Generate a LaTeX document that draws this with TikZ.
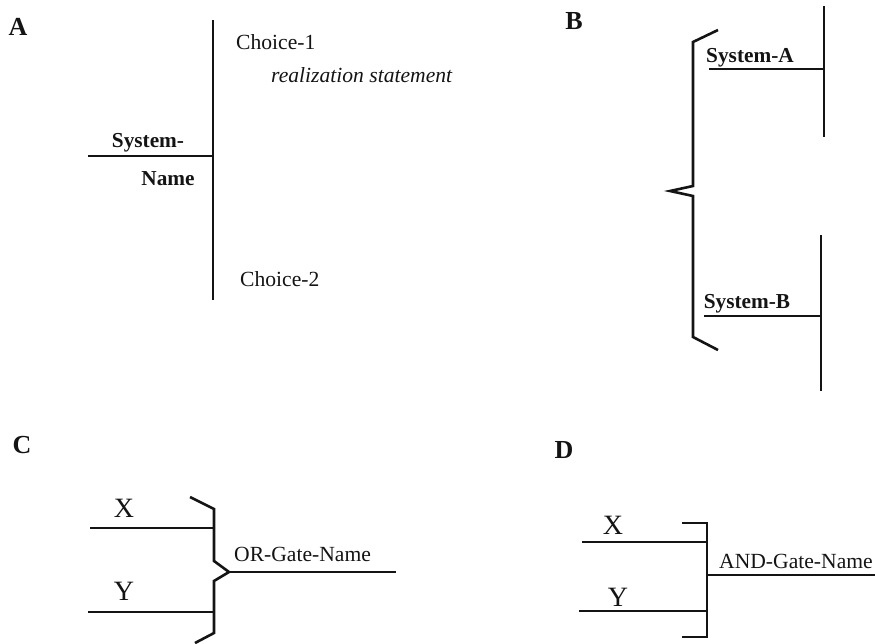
\documentclass[tikz,border=0pt]{standalone}
\usepackage{fontspec}
\setmainfont{Liberation Serif}
\usetikzlibrary{positioning}
\definecolor{ink}{RGB}{20,20,20}
\tikzset{
  wire/.style={draw=ink,line width=2.5pt},
  mid wire/.style={draw=ink,line width=2pt},
  thin wire/.style={draw=ink,line width=1.7pt},
  gate/.style={draw=ink,line width=2.6pt,line join=miter},
  panel/.style={inner sep=0pt,font=\fontsize{26}{28}\selectfont\bfseries,text=ink},
  sysname/.style={inner sep=0pt,font=\fontsize{21.3}{24}\selectfont\bfseries,text=ink},
  choice/.style={inner sep=0pt,anchor=west,font=\fontsize{21.6}{24}\selectfont,text=ink},
  input/.style={inner sep=0pt,font=\fontsize{28}{30}\selectfont,text=ink},
}
\begin{document}
\begin{tikzpicture}[x=1pt,y=-1pt]
  \useasboundingbox (0,0) rectangle (875,643);
  % A
  \node[panel] (la) at (18,27) {A};
  \coordinate (atop) at (213,20);
  \coordinate (abot) at (213,300);
  \coordinate (ajoin) at (213,156);
  \coordinate (ain) at (88,156);
  \draw[wire] (atop) -- (abot);
  \draw[wire] (ain) -- (ajoin);
  \node[sysname] (asys) at (148,143) {System-};
  \node[sysname] (aname) at (168,179) {Name};
  \node[choice] (ach1) at (236,42) {Choice-1};
  \node[choice,font=\fontsize{21.6}{24}\selectfont\itshape] (areal) at (271,75) {realization statement};
  \node[choice] (ach2) at (240,279) {Choice-2};
  % B
  \node[panel] (lb) at (574,21) {B};
  \coordinate (btopa) at (824,6);
  \coordinate (bbota) at (824,137);
  \coordinate (bjoina) at (824,69);
  \coordinate (bina) at (709,69);
  \coordinate (btopb) at (821,235);
  \coordinate (bbotb) at (821,391);
  \coordinate (bjoinb) at (821,316);
  \coordinate (binb) at (704,316);
  \draw[mid wire] (btopa) -- (bbota);
  \draw[mid wire] (btopb) -- (bbotb);
  \draw[thin wire] (bina) -- (bjoina);
  \draw[thin wire] (binb) -- (bjoinb);
  \draw[gate] (718,30) -- (693,42) -- (693,186) -- (670,191) -- (693,196) -- (693,337) -- (718,350);
  \node[sysname] (bsysa) at (750,58) {System-A};
  \node[sysname] (bsysb) at (747,304) {System-B};
  % C
  \node[panel] (lc) at (22,445) {C};
  \coordinate (cx) at (90,528);
  \coordinate (cxj) at (213,528);
  \coordinate (cy) at (88,612);
  \coordinate (cyj) at (213,612);
  \coordinate (ctip) at (229,572);
  \coordinate (cout) at (396,572);
  \draw[gate] (190,497) -- (214,509) -- (214,561) -- (ctip) -- (214,581) -- (214,633) -- (195,643);
  \draw[wire] (cx) -- (cxj);
  \draw[wire] (cy) -- (cyj);
  \draw[thin wire] (ctip) -- (cout);
  \node[input] (cxl) at (124,508) {X};
  \node[input] (cyl) at (124,591) {Y};
  \node[choice] (cgate) at (234,554) {OR-Gate-Name};
  % D
  \node[panel] (ld) at (564,450) {D};
  \coordinate (dx) at (582,542);
  \coordinate (dxj) at (706,542);
  \coordinate (dy) at (579,611);
  \coordinate (dyj) at (706,611);
  \coordinate (dj) at (707,575);
  \coordinate (dout) at (875,575);
  \draw[gate] (682,523) -- (707,523) -- (707,637) -- (682,637);
  \draw[mid wire] (dx) -- (dxj);
  \draw[mid wire] (dy) -- (dyj);
  \draw[mid wire] (dj) -- (dout);
  \node[input] (dxl) at (613,525) {X};
  \node[input] (dyl) at (618,597) {Y};
  \node[choice] (dgate) at (719,561) {AND-Gate-Name};
\end{tikzpicture}
\end{document}
